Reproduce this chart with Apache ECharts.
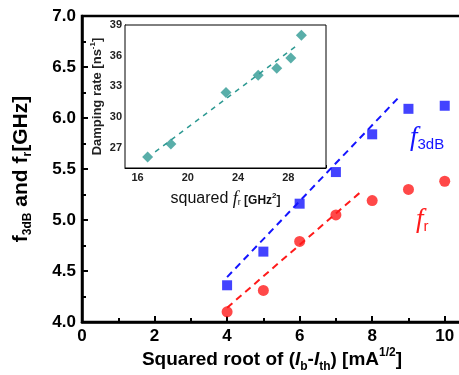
<!DOCTYPE html>
<html>
<head>
<meta charset="utf-8">
<script src="https://cdn.jsdelivr.net/npm/echarts@6/dist/echarts.min.js"></script>
<style>
  html, body { margin: 0; padding: 0; background: #fff; }
  #chart { width: 459px; height: 375px; }
</style>
</head>
<body>
<div id="chart"></div>
<script>
// Bias current: square root of (Ib - Ith), mA^1/2
const sqrtCurrent = [4, 5, 6, 7, 8, 9, 10];
// 3 dB modulation bandwidth, GHz
const f3dB = [4.36, 4.69, 5.16, 5.47, 5.84, 6.09, 6.12];
// Relaxation oscillation frequency, GHz
const fr = [4.10, 4.31, 4.79, 5.05, 5.19, 5.30, 5.38];
// Linear fits (end points) for the low-current region
const f3dBFitX = [4.0, 8.7];
const f3dBFitY = [4.44, 6.19];
const frFitX = [4.0, 7.7];
const frFitY = [4.14, 5.28];

// Inset: damping rate vs squared resonance frequency
const frSquared = [16.8, 18.65, 23.04, 25.6, 27.08, 28.2, 29.04];
const dampingRate = [26.08, 27.35, 32.39, 34.09, 34.77, 35.78, 38.0];
const dampingFitX = [17.4, 28.8];
const dampingFitY = [26.57, 37.1];

const pairs = (xs, ys) => xs.map((x, i) => [x, ys[i]]);

const BLUE = '#1414ff';
const RED = '#ff1a1a';
const TEAL = '#2f9a93';
const FONT = 'Liberation Sans, Arial, sans-serif';

const chart = echarts.init(document.getElementById('chart'), null, { renderer: 'canvas' });

const xTitleRich = {
  n: { fontFamily: FONT, fontSize: 19, fontWeight: 'bold', fill: '#000', lineHeight: 26, verticalAlign: 'middle' },
  i: { fontFamily: FONT, fontSize: 19, fontWeight: 'bold', fontStyle: 'italic', fill: '#000', lineHeight: 26, verticalAlign: 'middle' },
  sub: { fontFamily: FONT, fontSize: 12, fontWeight: 'bold', fill: '#000', verticalAlign: 'bottom' },
  sup: { fontFamily: FONT, fontSize: 12, fontWeight: 'bold', fill: '#000', verticalAlign: 'top' }
};

const option = {
  animation: false,
  backgroundColor: '#fff',
  grid: [
    { left: 82, top: 16, right: -22, bottom: 53, outerBoundsMode: 'none', containLabel: false,
      show: true, borderColor: '#000', borderWidth: 2.5, backgroundColor: 'transparent' },
    { left: 125, top: 25, width: 201, height: 143, outerBoundsMode: 'none', containLabel: false,
      show: true, borderColor: '#000', borderWidth: 1, backgroundColor: '#fff', z: 5 }
  ],
  xAxis: [
    {
      gridIndex: 0, type: 'value', min: 0, max: 11, interval: 2,
      axisLine: { show: true, lineStyle: { color: '#000', width: 2.5 } },
      axisTick: { show: true, inside: true, length: 6, lineStyle: { color: '#000', width: 2 } },
      minorTick: { show: true, splitNumber: 2, length: 4, lineStyle: { color: '#000', width: 2 } },
      splitLine: { show: false },
      axisLabel: { fontFamily: FONT, fontSize: 17, fontWeight: 'bold', color: '#000', margin: 6, showMaxLabel: false }
    },
    {
      gridIndex: 1, type: 'value', min: 15, max: 31, splitNumber: 8,
      name: '{n|squared }{i|f}{sub|r}{b| [GHz}{sup|2}{b|]}',
      nameLocation: 'middle', nameGap: 20,
      nameTextStyle: {
        rich: {
          n: { fontFamily: FONT, fontSize: 16, color: '#111', lineHeight: 22, verticalAlign: 'middle' },
          i: { fontFamily: 'Liberation Serif, Times New Roman, serif', fontSize: 18, fontStyle: 'italic', color: '#111', lineHeight: 22, verticalAlign: 'middle' },
          sub: { fontFamily: FONT, fontSize: 9, color: '#111', verticalAlign: 'bottom', padding: [0, 0, 3, 0] },
          b: { fontFamily: FONT, fontSize: 12, fontWeight: 'bold', color: '#111', verticalAlign: 'bottom', padding: [0, 0, 3, 0] },
          sup: { fontFamily: FONT, fontSize: 8, fontWeight: 'bold', color: '#111', verticalAlign: 'top', padding: [4, 0, 0, 0] }
        }
      },
      axisLine: { show: true, lineStyle: { color: '#000', width: 1 } },
      axisTick: { show: true, inside: true, length: 3, lineStyle: { color: '#000', width: 1 } },
      splitLine: { show: false },
      axisLabel: {
        fontFamily: FONT, fontSize: 11, fontWeight: 'bold', color: '#222', margin: 4,
        formatter: v => (v % 4 === 0 ? String(v) : '')
      }
    }
  ],
  yAxis: [
    {
      gridIndex: 0, type: 'value', min: 4, max: 7, interval: 0.5,
      name: '{n|f}{sub|3dB}{n| and f}{sub|r}{n|[GHz]}',
      nameLocation: 'middle', nameGap: 48, nameRotate: 90,
      nameTextStyle: {
        rich: {
          n: { fontFamily: FONT, fontSize: 21, fontWeight: 'bold', color: '#000', lineHeight: 26, verticalAlign: 'middle' },
          sub: { fontFamily: FONT, fontSize: 12, fontWeight: 'bold', color: '#000', verticalAlign: 'bottom' }
        }
      },
      axisLine: { show: true, lineStyle: { color: '#000', width: 2.5 } },
      axisTick: { show: true, inside: true, length: 6, lineStyle: { color: '#000', width: 2 } },
      minorTick: { show: true, splitNumber: 2, length: 4, lineStyle: { color: '#000', width: 2 } },
      splitLine: { show: false },
      axisLabel: { fontFamily: FONT, fontSize: 17, fontWeight: 'bold', color: '#000', margin: 6, formatter: v => v.toFixed(1) }
    },
    {
      gridIndex: 1, type: 'value', min: 25, max: 39, splitNumber: 5,
      name: '{n|Damping rate [ns}{sup|-1}{n|]}',
      nameLocation: 'middle', nameGap: 20, nameRotate: 90,
      nameTextStyle: {
        rich: {
          n: { fontFamily: FONT, fontSize: 13, fontWeight: 'bold', color: '#222', lineHeight: 16, verticalAlign: 'middle' },
          sup: { fontFamily: FONT, fontSize: 8, fontWeight: 'bold', color: '#222', verticalAlign: 'top' }
        }
      },
      axisLine: { show: true, lineStyle: { color: '#000', width: 1 } },
      axisTick: { show: true, inside: true, length: 3, lineStyle: { color: '#000', width: 1 } },
      minorTick: { show: true, splitNumber: 2, length: 2, lineStyle: { color: '#000', width: 1 } },
      splitLine: { show: false },
      axisLabel: {
        fontFamily: FONT, fontSize: 11, fontWeight: 'bold', color: '#222', margin: 3,
        formatter: v => (v % 3 === 0 ? String(v) : '')
      }
    }
  ],
  series: [
    {
      name: 'f3dB fit', type: 'line', xAxisIndex: 0, yAxisIndex: 0,
      data: pairs(f3dBFitX, f3dBFitY), symbol: 'none',
      lineStyle: { color: BLUE, width: 2, type: [7, 5] }, z: 2
    },
    {
      name: 'fr fit', type: 'line', xAxisIndex: 0, yAxisIndex: 0,
      data: pairs(frFitX, frFitY), symbol: 'none',
      lineStyle: { color: RED, width: 2, type: [7, 5] }, z: 2
    },
    {
      name: 'f3dB', type: 'scatter', xAxisIndex: 0, yAxisIndex: 0,
      data: pairs(sqrtCurrent, f3dB), symbol: 'rect', symbolSize: 10,
      itemStyle: { color: BLUE }, z: 3
    },
    {
      name: 'fr', type: 'scatter', xAxisIndex: 0, yAxisIndex: 0,
      data: pairs(sqrtCurrent, fr), symbol: 'circle', symbolSize: 11,
      itemStyle: { color: RED }, z: 3
    },
    {
      name: 'damping fit', type: 'line', xAxisIndex: 1, yAxisIndex: 1,
      data: pairs(dampingFitX, dampingFitY), symbol: 'none',
      lineStyle: { color: TEAL, width: 1.5, type: [5, 5] }, z: 6
    },
    {
      name: 'damping rate', type: 'scatter', xAxisIndex: 1, yAxisIndex: 1,
      data: pairs(frSquared, dampingRate), symbol: 'diamond', symbolSize: 11,
      itemStyle: { color: TEAL }, z: 7
    }
  ],
  graphic: [
    {
      // main x-axis title, centred under the visible part of the axis
      type: 'text', x: 272, y: 360, z: 10,
      style: {
        text: '{n|Squared root of (}{i|I}{sub|b}{n|-}{i|I}{sub|th}{n|) [mA}{sup|1/2}{n|]}',
        align: 'center', verticalAlign: 'middle',
        rich: xTitleRich
      }
    },
    {
      type: 'text', left: 410, top: 124, z: 10,
      style: {
        text: '{f|f}{s|3dB}',
        rich: {
          f: { fontFamily: 'Liberation Serif, Times New Roman, serif', fontSize: 27, fontStyle: 'italic', fill: BLUE, lineHeight: 30, verticalAlign: 'middle' },
          s: { fontFamily: FONT, fontSize: 15, fill: BLUE, verticalAlign: 'bottom' }
        }
      }
    },
    {
      type: 'text', left: 416, top: 206, z: 10,
      style: {
        text: '{f|f}{s|r}',
        rich: {
          f: { fontFamily: 'Liberation Serif, Times New Roman, serif', fontSize: 27, fontStyle: 'italic', fill: RED, lineHeight: 30, verticalAlign: 'middle' },
          s: { fontFamily: FONT, fontSize: 15, fill: RED, verticalAlign: 'bottom' }
        }
      }
    }
  ]
};

chart.setOption(option);
</script>
</body>
</html>
